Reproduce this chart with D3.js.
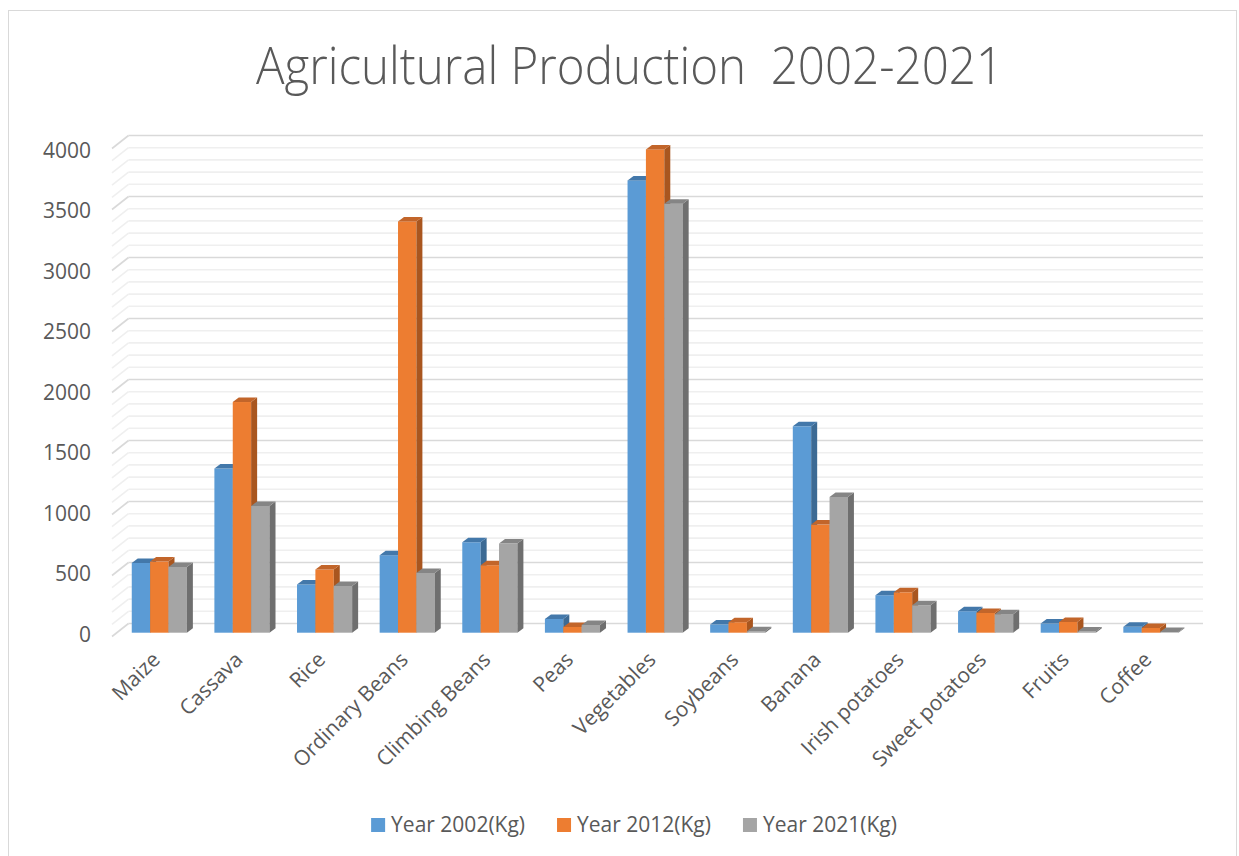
<!DOCTYPE html>
<html><head><meta charset="utf-8">
<script src="https://cdn.jsdelivr.net/npm/d3@7"></script>
<style>
body{margin:0;background:#fff}
svg{display:block}
text{font-family:'Open Sans',sans-serif;fill:#595959}
</style>
</head><body>
<svg id="c" width="1239" height="856"></svg>
<script>
const categories = ["Maize","Cassava","Rice","Ordinary Beans","Climbing Beans","Peas","Vegetables","Soybeans","Banana","Irish potatoes","Sweet potatoes","Fruits","Coffee"];
const year2002 = [572, 1345, 395, 635, 741, 113, 3706, 67, 1691, 307, 176, 75, 48];
const year2012 = [583, 1890, 518, 3370, 553, 47, 3960, 86, 886, 331, 162, 88, 39];
const year2021 = [539, 1038, 383, 490, 730, 64, 3515, 12, 1112, 225, 152, 10, 5];
const seriesNames = ["Year 2002(Kg)", "Year 2012(Kg)", "Year 2021(Kg)"];
const yTicks = [0, 500, 1000, 1500, 2000, 2500, 3000, 3500, 4000];
const minorStep = 100;

const seriesValues = [year2002, year2012, year2021];
const front = ["#5B9BD5", "#ED7D31", "#A5A5A5"];
const topC = ["#4378aa", "#c2652a", "#858585"];
const sideC = ["#3c6a94", "#a9561f", "#6f6f6f"];

const svg = d3.select("#c");

// chart border
svg.append("rect").attr("x", 8.5).attr("y", 10.5).attr("width", 1228).attr("height", 860)
  .attr("fill", "#fff").attr("stroke", "#d9d9d9").attr("stroke-width", 1);

// title
svg.append("text").attr("x", 629.5).attr("y", 84).attr("text-anchor", "middle")
  .attr("font-size", 51).attr("font-weight", 300)
  .style("white-space", "pre").attr("xml:space", "preserve")
  .attr("textLength", 747).attr("lengthAdjust", "spacingAndGlyphs")
  .text("Agricultural Production  2002-2021");

// 3D walls
const wallX0 = 128.5, wallX1 = 1203;
const depthDx = 16.5, depthDy = 13;
const yBack = d3.scaleLinear().domain([0, 4000]).range([623.5, 135.5]);
const yBar = d3.scaleLinear().domain([0, 4000]).range([632.7, 144.5]);
const yLab = d3.scaleLinear().domain([0, 4000]).range([634.5, 150.5]);

const grid = svg.append("g");
const allLines = d3.range(0, 4000 + 1, minorStep);
allLines.forEach(v => {
  const major = yTicks.includes(v);
  const col = major ? "#d9d9d9" : "#efefef";
  const yb = yBack(v);
  grid.append("line").attr("x1", wallX0).attr("x2", wallX1).attr("y1", yb).attr("y2", yb)
    .attr("stroke", col).attr("stroke-width", 1.6);
  grid.append("line").attr("x1", wallX0 - depthDx).attr("y1", yb + depthDy).attr("x2", wallX0).attr("y2", yb)
    .attr("stroke", col).attr("stroke-width", 1.6);
});

// y tick labels
svg.append("g").selectAll("text").data(yTicks).join("text")
  .attr("x", 91).attr("y", d => yLab(d)).attr("dy", "0.35em")
  .attr("text-anchor", "end").attr("font-size", 21)
  .text(d => d);

// bars
const x0 = d3.scaleBand().domain(categories).range([118, 1192.2]).paddingInner(0.333).paddingOuter(0.1665);
const x1 = d3.scaleBand().domain(d3.range(3)).range([0, x0.bandwidth()]);
const bdx = 6, bdy = 4.5;

const barsG = svg.append("g");
categories.forEach((c, i) => {
  for (let j = 0; j < 3; j++) {
    const v = seriesValues[j][i];
    const x = x0(c) + x1(j), w = x1.bandwidth();
    const yt = yBar(v), yb = yBar(0);
    const g = barsG.append("g");
    g.append("rect").attr("x", x).attr("y", yt).attr("width", w).attr("height", Math.max(0, yb - yt)).attr("fill", front[j]);
    g.append("polygon").attr("points", [[x + w, yt], [x + w + bdx, yt - bdy], [x + w + bdx, yb - bdy], [x + w, yb]].join(" ")).attr("fill", sideC[j]);
    g.append("polygon").attr("points", [[x, yt], [x + w, yt], [x + w + bdx, yt - bdy], [x + bdx, yt - bdy]].join(" ")).attr("fill", topC[j]);
  }
});

// x labels
svg.append("g").selectAll("text").data(categories).join("text")
  .attr("text-anchor", "end").attr("font-size", 21)
  .attr("transform", d => `translate(${x0(d) + x0.bandwidth() / 2 + 2},661) rotate(-45)`)
  .text(d => d);

// legend
const leg = svg.append("g");
const items = seriesNames.map((s, j) => {
  const g = leg.append("g");
  g.append("rect").attr("width", 14).attr("height", 14).attr("y", -7).attr("fill", front[j]);
  const t = g.append("text").attr("x", 20).attr("dy", "0.35em").attr("font-size", 21).text(s);
  return { g, w: 20 + t.node().getComputedTextLength() };
});
const gap = 32;
const total = d3.sum(items, d => d.w) + gap * (items.length - 1);
let lx = 634 - total / 2;
items.forEach(it => { it.g.attr("transform", `translate(${lx},825)`); lx += it.w + gap; });
</script>
</body></html>
